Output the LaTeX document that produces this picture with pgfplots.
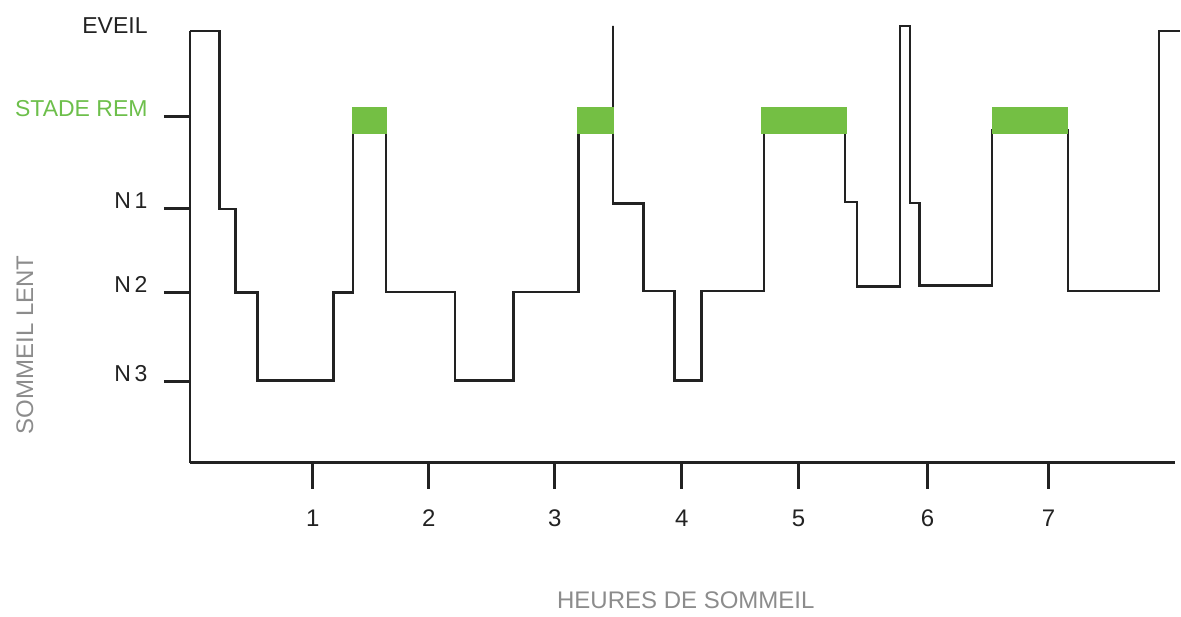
\documentclass[border=0pt]{standalone}
\usepackage{pgfplots}
\pgfplotsset{compat=1.18}
\usepackage{fontspec}
\setmainfont{Liberation Sans}

\definecolor{remgreen}{HTML}{74BF44}
\definecolor{labgreen}{HTML}{6DBF4B}
\definecolor{labgrey}{HTML}{8C8C8C}
\definecolor{ink}{HTML}{222222}

\begin{document}
\begin{tikzpicture}
\fontsize{12}{14}\selectfont
\begin{axis}[
    scale only axis,
    width=492.5pt, height=216pt,
    xmin=0, xmax=8.028,
    ymin=0, ymax=5,
    clip=false,
    axis x line=bottom,
    axis y line=left,
    axis line style={-, line width=1.4pt, ink},
    tick align=outside,
    major tick length=13pt,
    tick style={line width=1.6pt, ink},
    /pgf/number format/assume math mode=true,
    xtick={1.002,1.948,2.975,4.010,4.963,6.015,7.001},
    xticklabels={1,2,3,4,5,6,7},
    xticklabel style={font=\fontsize{12}{14}\selectfont, text=ink, yshift=-6.5pt},
    ytick={0.943,1.973,2.946,4.01},
    yticklabels={N\,3,N\,2,N\,1,\textcolor{labgreen}{STADE REM}},
    yticklabel style={font=\fontsize{11.5}{14}\selectfont, text=ink, yshift=4pt, xshift=-4pt},
    extra y ticks={5},
    extra y tick labels={EVEIL},
    extra y tick style={major tick length=0pt, yticklabel style={xshift=-13pt, yshift=-1.5pt}},
    xlabel={HEURES DE SOMMEIL},
    xlabel style={at={(rel axis cs:0.5036,0)}, anchor=center, yshift=-68.5pt,
        font=\fontsize{12}{14}\selectfont, text=labgrey},
    ylabel={SOMMEIL LENT},
    ylabel style={at={([xshift=-82.5pt]rel axis cs:0,0.273)}, anchor=center,
        font=\fontsize{12}{14}\selectfont, text=labgrey},
]

% hypnogramme : chaque point tient son stade jusqu'au suivant
\addplot[const plot, ink, line width=1.3pt] coordinates {
    (0.00,5.00) (0.24,2.94) (0.37,1.97) (0.55,0.95) (1.17,1.97)
    (1.33,3.85) (1.60,1.98) (2.16,0.95) (2.64,1.98) (3.17,3.85)
    (3.45,5.06) (3.45,3.00) (3.70,1.99) (3.95,0.95) (4.17,1.99)
    (4.68,3.85) (5.34,3.02) (5.44,2.04) (5.79,5.06) (5.87,3.01)
    (5.95,2.05) (6.54,3.85) (7.16,1.99) (7.90,5.00) (8.07,5.00)
};

% phases REM
\addplot[fill=remgreen, draw=none] coordinates {(1.32,3.81) (1.61,3.81) (1.61,4.12) (1.32,4.12)};
\addplot[fill=remgreen, draw=none] coordinates {(3.16,3.81) (3.46,3.81) (3.46,4.12) (3.16,4.12)};
\addplot[fill=remgreen, draw=none] coordinates {(4.66,3.81) (5.36,3.81) (5.36,4.12) (4.66,4.12)};
\addplot[fill=remgreen, draw=none] coordinates {(6.54,3.81) (7.16,3.81) (7.16,4.12) (6.54,4.12)};

\end{axis}
\path (-95pt,-75pt) rectangle (495.5pt,231.5pt);
\end{tikzpicture}
\end{document}
